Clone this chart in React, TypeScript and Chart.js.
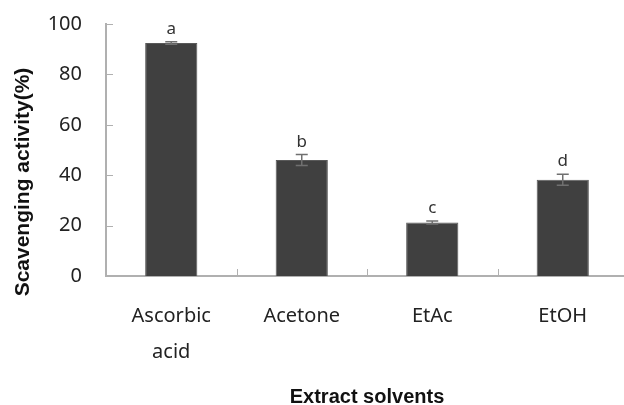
import React, { useEffect, useRef } from "react";
import { Chart, registerables } from "chart.js";

Chart.register(...registerables);

const categories: (string | string[])[] = [["Ascorbic", "acid"], "Acetone", "EtAc", "EtOH"];
const values: number[] = [92.5, 46.0, 21.2, 38.2];
const errors: number[] = [0.5, 2.2, 0.6, 2.2];
const letters: string[] = ["a", "b", "c", "d"];
const yTicks: number[] = [0, 20, 40, 60, 80, 100];
const yTitle = "Scavenging activity(%)";
const xTitle = "Extract solvents";

const TICK_FONT = "'Noto Sans', 'DejaVu Sans', sans-serif";
const TITLE_FONT = "'Liberation Sans', Arial, sans-serif";

const extrasPlugin = {
  id: "extras",
  afterDatasetsDraw(chart: any) {
    const ctx = chart.ctx;
    const meta = chart.getDatasetMeta(0);
    const y = chart.scales.y;
    const x = chart.scales.x;
    const area = chart.chartArea;
    ctx.save();
    ctx.strokeStyle = "#b0b0b0";
    ctx.lineWidth = 1;
    yTicks.forEach((t) => {
      const py = Math.round(y.getPixelForValue(t)) + 0.5;
      ctx.beginPath();
      ctx.moveTo(area.left, py);
      ctx.lineTo(area.left + 7, py);
      ctx.stroke();
    });
    for (let i = 1; i < categories.length; i++) {
      const px = Math.round((x.getPixelForValue(i - 1) + x.getPixelForValue(i)) / 2) + 0.5;
      ctx.beginPath();
      ctx.moveTo(px, area.bottom);
      ctx.lineTo(px, area.bottom - 7);
      ctx.stroke();
    }
    meta.data.forEach((bar: any, i: number) => {
      const cx = bar.x;
      const top = y.getPixelForValue(values[i] + errors[i]);
      const bot = y.getPixelForValue(values[i] - errors[i]);
      ctx.strokeStyle = "#707070";
      ctx.lineWidth = 1.5;
      ctx.beginPath();
      ctx.moveTo(cx, top);
      ctx.lineTo(cx, bot);
      ctx.moveTo(cx - 6, top);
      ctx.lineTo(cx + 6, top);
      ctx.moveTo(cx - 6, bot);
      ctx.lineTo(cx + 6, bot);
      ctx.stroke();
      ctx.fillStyle = "#333333";
      ctx.font = `17px ${TICK_FONT}`;
      ctx.textAlign = "center";
      ctx.textBaseline = "alphabetic";
      ctx.fillText(letters[i], cx, top - 8);
    });
    ctx.translate(23, 182);
    ctx.rotate(-Math.PI / 2);
    ctx.fillStyle = "#111111";
    ctx.font = `bold 21px ${TITLE_FONT}`;
    ctx.textAlign = "center";
    ctx.textBaseline = "middle";
    ctx.fillText(yTitle, 0, 0);
    ctx.restore();
  },
};

export default function App() {
  const ref = useRef<HTMLCanvasElement>(null);
  useEffect(() => {
    if (!ref.current) return;
    const chart = new Chart(ref.current, {
      type: "bar",
      data: {
        labels: categories,
        datasets: [
          {
            data: values,
            backgroundColor: "#404040",
            borderColor: "#595959",
            borderWidth: 1,
            barPercentage: 0.4,
            categoryPercentage: 1,
          },
        ],
      },
      options: {
        animation: false,
        responsive: false,
        maintainAspectRatio: false,
        layout: { padding: { top: 24, right: 0, left: 0, bottom: 0 } },
        plugins: { legend: { display: false }, tooltip: { enabled: false } },
        scales: {
          x: {
            grid: { display: false, drawTicks: false },
            border: { display: true, color: "#b0b0b0", width: 2 },
            ticks: {
              color: "#222222",
              font: { size: 20, family: TICK_FONT, lineHeight: 1.8 },
              padding: 22,
              maxRotation: 0,
              autoSkip: false,
            },
            title: {
              display: true,
              text: xTitle,
              color: "#111111",
              font: { size: 20, weight: "bold", family: TITLE_FONT, lineHeight: 0.8 },
              padding: { top: 0, bottom: 0 },
            },
            afterFit: (s: any) => {
              s.height = 129;
            },
          },
          y: {
            min: 0,
            max: 100,
            grid: { display: false, drawTicks: false },
            border: { display: true, color: "#b0b0b0", width: 2 },
            ticks: {
              stepSize: 20,
              color: "#222222",
              font: { size: 20, family: TICK_FONT },
              padding: 24,
            },
            afterFit: (s: any) => {
              s.width = 106;
              s.paddingTop = 0;
              s.paddingBottom = 0;
            },
          },
        },
      },
      plugins: [extrasPlugin],
    });
    return () => chart.destroy();
  }, []);
  return (
    <div style={{ position: "fixed", left: 0, top: 0, width: 624, height: 405, overflow: "hidden", background: "#fff" }}>
      <canvas ref={ref} width={628} height={405} style={{ width: 628, height: 405, display: "block" }} />
    </div>
  );
}
